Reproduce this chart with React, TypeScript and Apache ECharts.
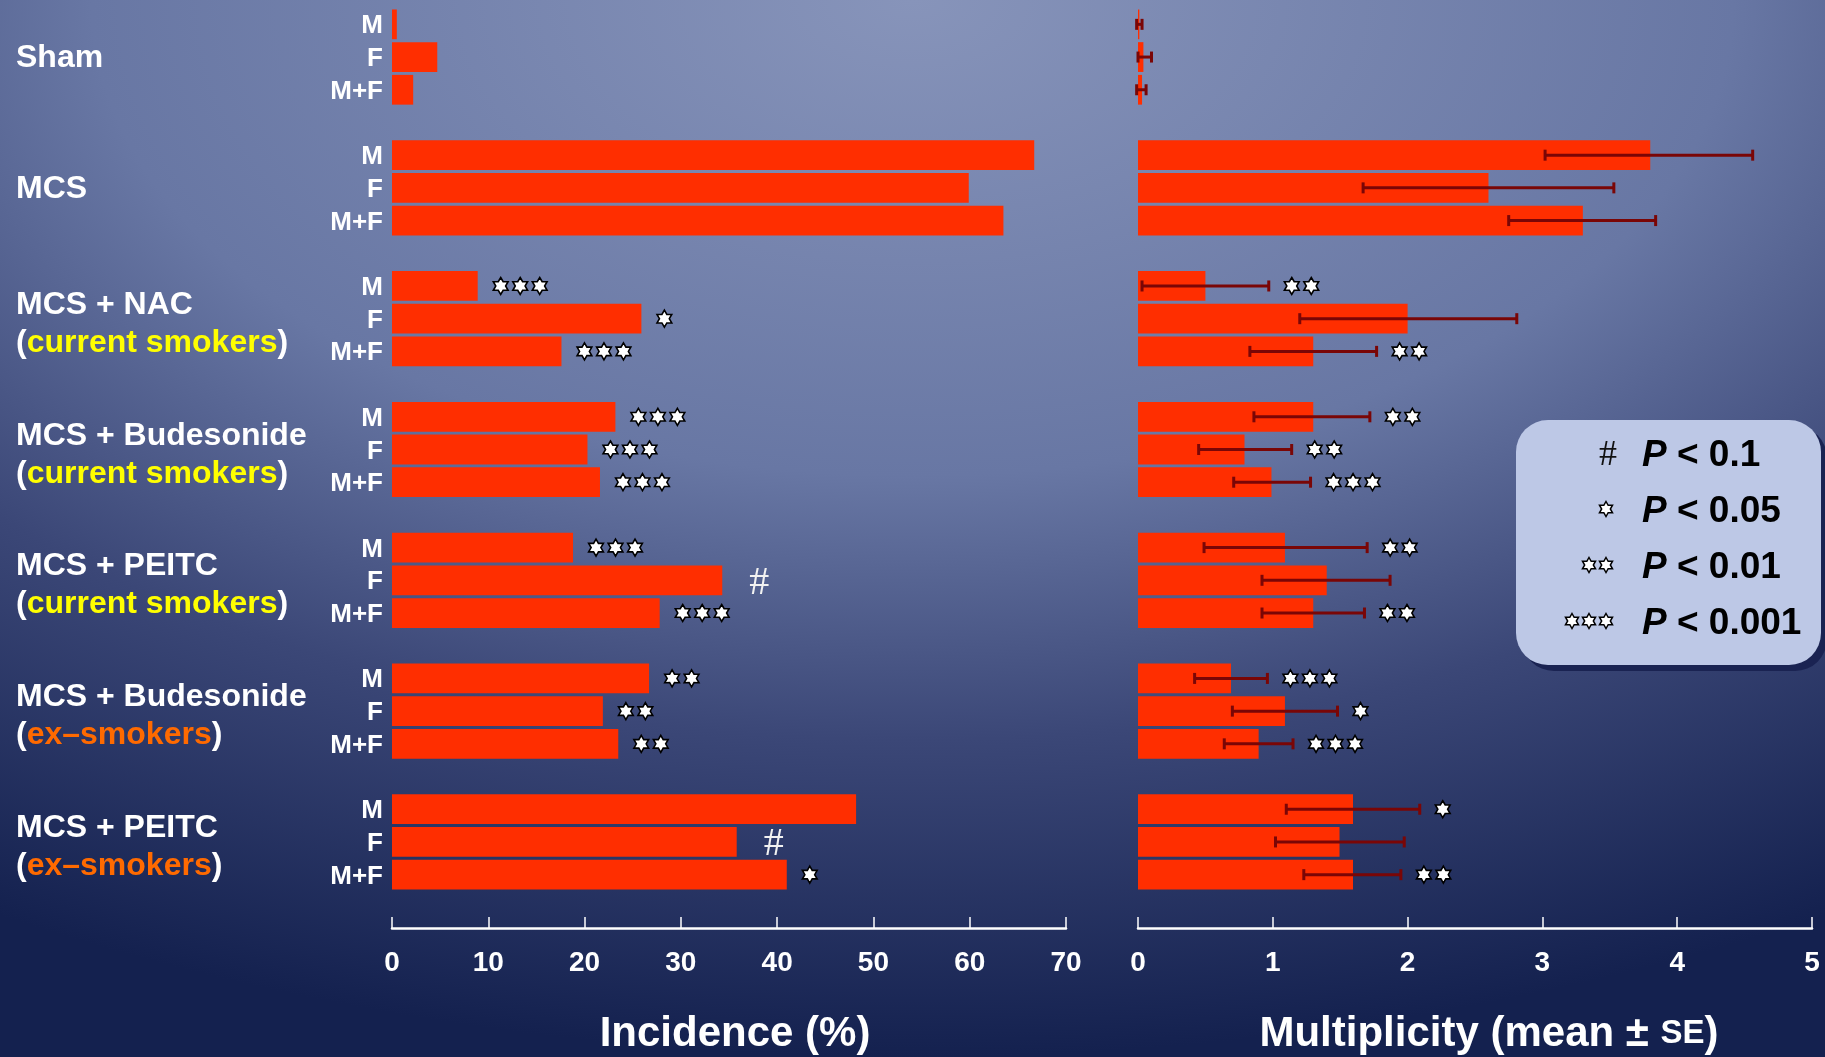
import React, { useEffect, useRef } from "react";
import * as echarts from "echarts";

const groups = [
  "Sham",
  "MCS",
  "MCS + NAC",
  "MCS + Budesonide",
  "MCS + PEITC",
  "MCS + Budesonide",
  "MCS + PEITC",
];
const groupSub = ["", "", "current smokers", "current smokers", "current smokers", "ex–smokers", "ex–smokers"];
const sexes = ["M", "F", "M+F"];

// Incidence (%) – order: group x [M, F, M+F]
const incidence = [
  0.5, 4.7, 2.2,
  66.7, 59.9, 63.5,
  8.9, 25.9, 17.6,
  23.2, 20.3, 21.6,
  18.8, 34.3, 27.8,
  26.7, 21.9, 23.5,
  48.2, 35.8, 41.0,
];

// Multiplicity mean and SE bar ends
const multiplicity = [
  0.01, 0.04, 0.03,
  3.8, 2.6, 3.3,
  0.5, 2.0, 1.3,
  1.3, 0.79, 0.99,
  1.09, 1.4, 1.3,
  0.69, 1.09, 0.895,
  1.595, 1.495, 1.595,
];
const errLow = [
  -0.01, 0.0, -0.01,
  3.02, 1.67, 2.75,
  0.03, 1.2, 0.83,
  0.86, 0.45, 0.71,
  0.49, 0.92, 0.92,
  0.42, 0.7, 0.64,
  1.1, 1.02, 1.23,
];
const errHigh = [
  0.03, 0.1, 0.06,
  4.56, 3.53, 3.84,
  0.97, 2.81, 1.77,
  1.72, 1.14, 1.28,
  1.7, 1.87, 1.68,
  0.96, 1.48, 1.15,
  2.09, 1.975, 1.95,
];

// significance: 0 none, 1-3 stars, 4 = "#"
const sigIncidence = [
  0, 0, 0,
  0, 0, 0,
  3, 1, 3,
  3, 3, 3,
  3, 4, 3,
  2, 2, 2,
  0, 4, 1,
];
const sigMultiplicity = [
  0, 0, 0,
  0, 0, 0,
  2, 0, 2,
  2, 2, 3,
  2, 0, 2,
  3, 1, 3,
  1, 0, 2,
];

const incidenceTicks = { min: 0, max: 70, interval: 10 };
const multTicks = { min: 0, max: 5, interval: 1 };

const legendItems = [
  { kind: 4, text: "0.1" },
  { kind: 1, text: "0.05" },
  { kind: 2, text: "0.01" },
  { kind: 3, text: "0.001" },
];

const FONT = '"Liberation Sans", Arial, Helvetica, sans-serif';
const BAR = "#ff2e00";
const ERR = "#7a0606";

// Build 27 slots (3 rows per group + gap)
const rowIndex = (i: number) => Math.floor(i / 3) * 4 + (i % 3);
const NROWS = groups.length * 4 - 1;
const categories: string[] = [];
for (let r = 0; r < NROWS; r++) {
  const g = Math.floor(r / 4);
  const s = r % 4;
  categories.push(s < 3 ? `${g}|${sexes[s]}` : `gap${g}`);
}
function slots(vals: number[]) {
  const out: any[] = new Array(NROWS).fill("-");
  vals.forEach((v, i) => (out[rowIndex(i)] = v));
  return out;
}

function starPoints(cx: number, cy: number, R: number) {
  const pts: number[][] = [];
  for (let i = 0; i < 12; i++) {
    const a = ((-90 + i * 30) * Math.PI) / 180;
    const r = i % 2 === 0 ? R : R * 0.577;
    pts.push([cx + r * Math.cos(a), cy + r * Math.sin(a)]);
  }
  return pts;
}

function markerGroup(x0: number, y: number, kind: number, R: number, hashColor: string, hashOff: number, hashSize: number) {
  const children: any[] = [];
  if (kind === 4) {
    children.push({
      type: "text",
      style: {
        text: "#",
        x: x0 + hashOff,
        y,
        align: "center",
        verticalAlign: "middle",
        font: `normal ${hashSize}px "Liberation Serif", "DejaVu Serif", serif`,
        fill: hashColor,
      },
    });
  } else {
    for (let k = 0; k < kind; k++) {
      children.push({
        type: "polygon",
        shape: { points: starPoints(x0 + 23 + k * 19.5, y, R) },
        style: { fill: "#ffffff", stroke: "#000000", lineWidth: 1.6 },
      });
    }
  }
  return children;
}

function xAxisCfg(gridIndex: number, t: any, name: string, padLeft: number) {
  return {
    type: "value",
    gridIndex,
    min: t.min,
    max: t.max,
    interval: t.interval,
    position: "bottom",
    offset: 37,
    axisLine: { show: true, lineStyle: { color: "#ffffff", width: 2.5 } },
    axisTick: { show: true, inside: true, length: 11, lineStyle: { color: "#ffffff", width: 1.5 } },
    axisLabel: { color: "#ffffff", fontSize: 28, fontWeight: "bold", fontFamily: FONT, margin: 19 },
    splitLine: { show: false },
    name,
    nameLocation: "middle",
    nameGap: 82,
    nameTextStyle: {
      color: "#ffffff",
      fontSize: 42,
      fontWeight: "bold",
      fontFamily: FONT,
      padding: [0, 0, 0, padLeft],
      rich: { s: { fontSize: 33, fontWeight: "bold", fontFamily: FONT, color: "#ffffff" } },
    },
  };
}

export default function App() {
  const ref = useRef<HTMLDivElement>(null);
  useEffect(() => {
    if (!ref.current) return;
    const chart = echarts.init(ref.current, null, { renderer: "svg" });

    const incMarkers = incidence
      .map((v, i) => [v, rowIndex(i), sigIncidence[i]])
      .filter((d) => d[2] > 0);
    const multMarkers = errHigh
      .map((v, i) => [v, rowIndex(i), sigMultiplicity[i]])
      .filter((d) => d[2] > 0);
    const errData = multiplicity.map((_, i) => [errLow[i], errHigh[i], rowIndex(i)]);

    const yAxisBase = {
      type: "category",
      data: categories,
      inverse: true,
      axisLine: { show: false },
      axisTick: { show: false },
      splitLine: { show: false },
    };

    const option: any = {
      animation: false,
      backgroundColor: "transparent",
      grid: [
        { left: 392, width: 674, top: 8, height: 887 },
        { left: 1138, width: 674, top: 8, height: 887 },
      ],
      xAxis: [
        xAxisCfg(0, incidenceTicks, "Incidence (%)", 12),
        xAxisCfg(1, multTicks, "Multiplicity (mean ± {s|SE})", 28),
      ],
      yAxis: [
        {
          ...yAxisBase,
          gridIndex: 0,
          axisLabel: {
            interval: 0,
            color: "#ffffff",
            fontSize: 26,
            fontWeight: "bold",
            fontFamily: FONT,
            margin: 9,
            formatter: (v: string) => (v.indexOf("|") >= 0 ? v.split("|")[1] : ""),
          },
        },
        { ...yAxisBase, gridIndex: 1, axisLabel: { show: false } },
      ],
      series: [
        {
          type: "bar",
          xAxisIndex: 0,
          yAxisIndex: 0,
          data: slots(incidence),
          barWidth: "91%",
          itemStyle: { color: BAR },
        },
        {
          type: "bar",
          xAxisIndex: 1,
          yAxisIndex: 1,
          data: slots(multiplicity),
          barWidth: "91%",
          itemStyle: { color: BAR },
        },
        {
          type: "custom",
          xAxisIndex: 1,
          yAxisIndex: 1,
          z: 5,
          data: errData,
          encode: { x: [0, 1], y: 2 },
          renderItem: (params: any, api: any) => {
            const lo = api.coord([api.value(0), api.value(2)]);
            const hi = api.coord([api.value(1), api.value(2)]);
            const st = { stroke: ERR, lineWidth: 3 };
            return {
              type: "group",
              children: [
                { type: "line", shape: { x1: lo[0], y1: lo[1], x2: hi[0], y2: hi[1] }, style: st },
                { type: "line", shape: { x1: lo[0], y1: lo[1] - 5.5, x2: lo[0], y2: lo[1] + 5.5 }, style: st },
                { type: "line", shape: { x1: hi[0], y1: hi[1] - 5.5, x2: hi[0], y2: hi[1] + 5.5 }, style: st },
              ],
            };
          },
        },
        {
          type: "custom",
          xAxisIndex: 0,
          yAxisIndex: 0,
          z: 6,
          data: incMarkers,
          encode: { x: 0, y: 1 },
          renderItem: (params: any, api: any) => {
            const p = api.coord([api.value(0), api.value(1)]);
            return { type: "group", children: markerGroup(p[0], p[1], api.value(2), 8.5, "#f2f2f2", 37, 40) };
          },
        },
        {
          type: "custom",
          xAxisIndex: 1,
          yAxisIndex: 1,
          z: 6,
          data: multMarkers,
          encode: { x: 0, y: 1 },
          renderItem: (params: any, api: any) => {
            const p = api.coord([api.value(0), api.value(1)]);
            return { type: "group", children: markerGroup(p[0], p[1], api.value(2), 8.5, "#f2f2f2", 37, 40) };
          },
        },
      ],
    };
    chart.setOption(option);

    // group labels positioned from the category scale
    const graphics: any[] = [];
    groups.forEach((g, gi) => {
      const y = chart.convertToPixel({ yAxisIndex: 0 } as any, gi * 4 + 1) as unknown as number;
      const sub = groupSub[gi];
      const base = { fill: "#ffffff", font: `bold 32px ${FONT}` };
      if (!sub) {
        graphics.push({ type: "text", left: 16, top: y - 17, style: { ...base, text: g } });
      } else {
        const col = sub.startsWith("ex") ? "#ff6a00" : "#ffff00";
        graphics.push({ type: "text", left: 16, top: y - 32, style: { ...base, text: g } });
        graphics.push({
          type: "text",
          left: 16,
          top: y + 6,
          style: {
            ...base,
            text: `{p|(}{c|${sub}}{p|)}`,
            rich: {
              p: { fill: "#ffffff", font: `bold 32px ${FONT}` },
              c: { fill: col, font: `bold 32px ${FONT}` },
            },
          },
        });
      }
    });

    // legend box
    const bx = 1516, by = 420, bw = 305, bh = 245;
    graphics.push({
      type: "rect",
      shape: { x: bx + 6, y: by + 6, width: bw, height: bh, r: 32 },
      style: { fill: "#1a2352" },
      z: 10,
    });
    graphics.push({
      type: "rect",
      shape: { x: bx, y: by, width: bw, height: bh, r: 32 },
      style: { fill: "#bdc8e6" },
      z: 11,
    });
    legendItems.forEach((it, i) => {
      const cy = 453 + i * 56;
      if (it.kind === 4) {
        graphics.push({
          type: "text",
          z: 12,
          style: {
            text: "#",
            x: 1608,
            y: cy,
            align: "center",
            verticalAlign: "middle",
            font: `normal 36px "Liberation Serif", "DejaVu Serif", serif`,
            fill: "#111111",
          },
        });
      } else {
        for (let k = 0; k < it.kind; k++) {
          const cx = 1606 - (it.kind - 1 - k) * 17;
          graphics.push({
            type: "polygon",
            z: 12,
            shape: { points: starPoints(cx, cy, 7.5) },
            style: { fill: "#ffffff", stroke: "#000000", lineWidth: 1.5 },
          });
        }
      }
      graphics.push({
        type: "text",
        z: 12,
        style: {
          text: `{i|P} < ${it.text}`,
          x: 1642,
          y: cy,
          verticalAlign: "middle",
          font: `bold 37px ${FONT}`,
          fill: "#000000",
          rich: { i: { font: `italic bold 37px ${FONT}`, fill: "#000000" } },
        },
      });
    });

    chart.setOption({ graphic: graphics });

    return () => chart.dispose();
  }, []);

  return (
    <div
      ref={ref}
      style={{
        position: "fixed",
        left: 0,
        top: 0,
        width: 1825,
        height: 1057,
        background:
          "radial-gradient(ellipse 100% 100% at 50% 0%, #8794ba 0%, #6877a4 45%, #3b4777 70%, #14214f 100%)",
      }}
    />
  );
}
